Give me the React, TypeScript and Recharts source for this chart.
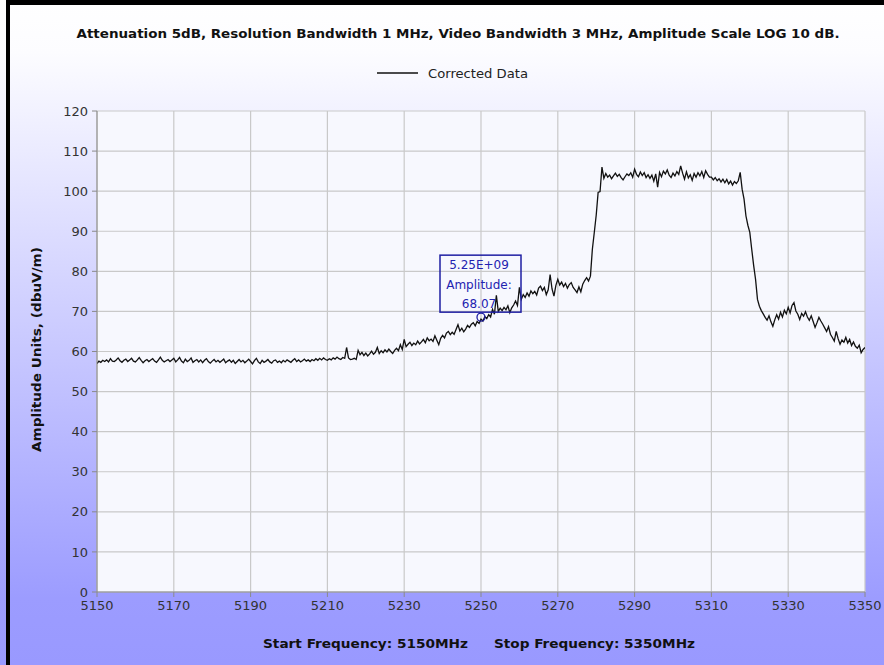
import React from 'react';
import { LineChart, Line, XAxis, YAxis, CartesianGrid, ReferenceDot } from 'recharts';

const START_FREQ = 5150;
const STEP_MHZ = 0.5;
const SERIES_NAME = 'Corrected Data';
const CHART_TITLE = 'Attenuation 5dB, Resolution Bandwidth 1 MHz, Video Bandwidth 3 MHz, Amplitude Scale LOG 10 dB.';
const Y_TITLE = 'Amplitude Units, (dbuV/m)';
const X_TITLE_START = 'Start Frequency: 5150MHz';
const X_TITLE_STOP = 'Stop Frequency: 5350MHz';

// amplitude readings, one row per 10 MHz (0.5 MHz steps)
const row5150 = [57.0, 57.6, 57.3, 57.8, 57.5, 57.9, 57.4, 58.2, 57.6, 57.5, 57.9, 58.4, 57.7, 57.3, 57.8, 58.1, 57.5, 57.9, 58.3, 57.6];
const row5160 = [57.4, 57.9, 58.5, 57.8, 57.2, 57.7, 58.0, 57.5, 57.9, 58.2, 57.6, 57.3, 57.9, 58.6, 57.8, 57.4, 57.7, 58.0, 57.5, 57.9];
const row5170 = [58.3, 57.4, 57.9, 58.5, 57.6, 57.2, 58.1, 57.5, 57.8, 58.4, 57.3, 57.7, 58.0, 57.4, 57.9, 57.2, 57.8, 58.2, 57.5, 57.1];
const row5180 = [57.6, 58.0, 57.4, 57.8, 57.3, 57.7, 58.1, 57.2, 57.6, 57.9, 57.3, 57.8, 57.0, 57.5, 58.0, 57.4, 57.8, 57.2, 57.6, 58.1];
const row5190 = [57.5, 56.9, 57.7, 58.3, 57.4, 57.0, 57.8, 57.3, 57.6, 58.0, 57.4, 57.1, 57.7, 57.9, 57.3, 57.6, 57.2, 57.8, 57.4, 57.9];
const row5200 = [57.6, 57.3, 57.8, 58.2, 57.5, 57.9, 57.4, 57.7, 58.1, 57.6, 57.9, 57.5, 58.0, 57.7, 58.2, 57.8, 58.3, 57.9, 58.4, 58.0];
const row5210 = [57.8, 58.2, 57.9, 58.4, 58.1, 58.6, 58.2, 58.0, 58.5, 58.3, 61.0, 58.4, 58.0, 58.1, 58.3, 58.0, 60.3, 59.2, 59.8, 59.0];
const row5220 = [59.6, 58.9, 59.4, 60.1, 59.3, 59.8, 61.0, 59.5, 60.2, 59.7, 60.4, 59.9, 60.6, 60.0, 59.5, 60.3, 60.8, 60.2, 61.7, 60.5];
const row5230 = [63.0, 61.2, 61.8, 62.3, 61.5, 62.1, 61.7, 62.6, 61.9, 62.4, 63.0, 62.2, 63.4, 62.7, 63.1, 62.5, 63.9, 62.8, 61.7, 63.3];
const row5240 = [64.0, 63.4, 64.6, 65.0, 64.2, 64.8, 64.3, 65.5, 66.7, 65.1, 65.8, 64.9, 65.6, 66.5, 66.0, 66.8, 67.2, 66.4, 67.5, 67.0];
const row5250 = [68.07, 67.6, 68.7, 68.2, 69.2, 68.6, 70.5, 69.3, 74.0, 70.0, 70.8, 70.2, 71.0, 70.4, 71.4, 69.7, 70.9, 71.6, 72.6, 71.5];
const row5260 = [76.0, 73.0, 74.2, 73.5, 74.6, 73.8, 75.1, 74.4, 75.0, 74.1, 75.8, 76.3, 75.2, 76.0, 74.2, 75.4, 79.2, 75.6, 73.8, 76.5];
const row5270 = [78.0, 76.6, 77.3, 76.2, 77.0, 75.8, 76.7, 77.2, 76.0, 75.4, 74.7, 76.1, 74.9, 76.8, 77.7, 78.4, 77.6, 78.8, 85.5, 89.7];
const row5280 = [94.0, 99.7, 99.9, 106.0, 103.2, 104.4, 103.5, 104.0, 103.1, 103.8, 104.5, 103.7, 104.2, 103.4, 102.8, 103.6, 104.3, 103.9, 104.6, 103.5];
const row5290 = [105.5, 104.2, 103.6, 104.8, 103.9, 104.6, 103.4, 104.1, 103.2, 104.0, 102.5, 104.3, 101.0, 104.7, 103.6, 105.0, 104.3, 105.3, 104.0, 103.4];
const row5300 = [104.5, 103.8, 104.9, 104.2, 106.3, 104.5, 103.0, 104.8, 103.3, 104.1, 102.7, 104.4, 103.5, 104.6, 103.8, 104.9, 103.4, 105.1, 104.2, 103.5];
const row5310 = [103.5, 102.8, 103.4, 102.6, 103.1, 102.3, 103.0, 102.1, 102.9, 101.8, 102.5, 101.5, 102.4, 101.9, 102.6, 104.7, 100.5, 98.0, 93.8, 91.5];
const row5320 = [89.7, 85.5, 81.5, 78.0, 73.0, 71.3, 70.2, 69.4, 68.5, 67.8, 68.9, 67.4, 66.3, 67.9, 69.2, 68.1, 69.8, 68.6, 70.3, 69.4];
const row5330 = [71.0, 69.6, 71.5, 72.2, 70.1, 69.3, 68.0, 69.5, 68.8, 69.9, 68.6, 67.8, 68.9, 67.5, 66.0, 67.2, 68.5, 67.6, 66.8, 65.9];
const row5340 = [65.0, 66.2, 64.3, 63.5, 62.6, 65.0, 63.2, 61.8, 62.9, 62.3, 63.5, 62.1, 63.0, 61.5, 62.4, 61.3, 60.8, 61.6, 59.7, 60.5];
const row5350 = [61.0];

const amplitudes = [
  ...row5150, ...row5160, ...row5170, ...row5180, ...row5190,
  ...row5200, ...row5210, ...row5220, ...row5230, ...row5240,
  ...row5250, ...row5260, ...row5270, ...row5280, ...row5290,
  ...row5300, ...row5310, ...row5320, ...row5330, ...row5340, ...row5350,
];

const data = amplitudes.map((amp, i) => ({ freq: START_FREQ + i * STEP_MHZ, amp }));

const xTicks = [5150, 5170, 5190, 5210, 5230, 5250, 5270, 5290, 5310, 5330, 5350];
const yTicks = [0, 10, 20, 30, 40, 50, 60, 70, 80, 90, 100, 110, 120];

const markerFreq = 5250;
const markerAmp = 68.07;
const markerLines = ['5.25E+09', 'Amplitude:', '68.07'];

const W = 884;
const H = 665;

const MarkerShape = (props: any) => {
  const { cx, cy } = props;
  if (cx == null || cy == null) return null;
  const c = '#1f1fa3';
  return (
    <g>
      <circle cx={cx} cy={cy - 2} r={4} fill="none" stroke={c} strokeWidth={1.3} />
      <rect x={cx - 41} y={cy - 64} width={81} height={57} fill="none" stroke={c} strokeWidth={1.5} />
      {markerLines.map((t, i) => (
        <text
          key={i}
          x={cx - 2}
          y={cy - 54 + i * 19.5}
          textAnchor="middle"
          dominantBaseline="central"
          fill="#2323b0"
          fontSize={12}
          fontFamily="DejaVu Sans, Verdana, sans-serif"
        >
          {t}
        </text>
      ))}
    </g>
  );
};

const tickStyle = { fill: '#333333', fontSize: 13, fontFamily: 'DejaVu Sans, Verdana, sans-serif' };

export default function App() {
  return (
    <div style={{ position: 'absolute', left: 0, top: 0, width: W, height: H, overflow: 'hidden' }}>
      <svg width={W} height={H} style={{ position: 'absolute', left: 0, top: 0 }}>
        <defs>
          <linearGradient id="bgGrad" x1="0" y1="0" x2="0" y2="1">
            <stop offset="0" stopColor="#ffffff" />
            <stop offset="0.08" stopColor="#fcfcff" />
            <stop offset="0.9" stopColor="#9c9cff" />
            <stop offset="1" stopColor="#9999ff" />
          </linearGradient>
        </defs>
        <rect x={0} y={0} width={W} height={H} fill="url(#bgGrad)" />
      </svg>
      <div style={{ position: 'absolute', left: 0, top: 0 }}>
        <LineChart width={W} height={H} data={data} margin={{ top: 111, right: 19, bottom: 43, left: 0 }}>
          <CartesianGrid stroke="#c9c9c9" strokeWidth={1.2} fill="#f7f8fe" ticks={undefined} />
          <XAxis
            dataKey="freq"
            type="number"
            domain={[5150, 5350]}
            ticks={xTicks}
            interval={0}
            allowDataOverflow
            height={30}
            stroke="#8a8a8a"
            tickSize={5}
            tickMargin={4}
            tick={tickStyle}
          />
          <YAxis
            type="number"
            domain={[0, 120]}
            ticks={yTicks}
            interval={0}
            allowDataOverflow
            width={97}
            stroke="#8a8a8a"
            tickSize={5}
            tickMargin={4}
            tick={tickStyle}
          />
          <Line
            type="linear"
            dataKey="amp"
            name={SERIES_NAME}
            stroke="#111111"
            strokeWidth={1.3}
            dot={false}
            isAnimationActive={false}
          />
          <ReferenceDot x={markerFreq} y={markerAmp} r={4} shape={MarkerShape} ifOverflow="visible" />
        </LineChart>
      </div>
      <svg width={W} height={H} style={{ position: 'absolute', left: 0, top: 0, pointerEvents: 'none' }}>
        <rect x={6} y={0} width={W - 6} height={5} fill="#000" />
        <rect x={6} y={0} width={4} height={H} fill="#000" />
        <text
          x={458}
          y={38}
          textAnchor="middle"
          fontFamily="DejaVu Sans Condensed, DejaVu Sans, sans-serif"
          fontWeight="bold"
          fontSize={13}
          fill="#111"
          textLength={763}
          lengthAdjust="spacingAndGlyphs"
        >
          {CHART_TITLE}
        </text>
        <line x1={377} y1={73} x2={418} y2={73} stroke="#111" strokeWidth={1.3} />
        <text x={428} y={77.5} fontFamily="DejaVu Sans, sans-serif" fontSize={12} fill="#222" textLength={100} lengthAdjust="spacingAndGlyphs">
          {SERIES_NAME}
        </text>
        <text
          x={0}
          y={0}
          transform="translate(41,349.5) rotate(-90)"
          textAnchor="middle"
          fontFamily="DejaVu Sans Condensed, DejaVu Sans, sans-serif"
          fontWeight="bold"
          fontSize={13}
          fill="#111"
          textLength={205}
          lengthAdjust="spacingAndGlyphs"
        >
          {Y_TITLE}
        </text>
        <text x={263} y={648} fontFamily="DejaVu Sans Condensed, DejaVu Sans, sans-serif" fontWeight="bold" fontSize={13} fill="#111" textLength={205} lengthAdjust="spacingAndGlyphs">
          {X_TITLE_START}
        </text>
        <text x={494} y={648} fontFamily="DejaVu Sans Condensed, DejaVu Sans, sans-serif" fontWeight="bold" fontSize={13} fill="#111" textLength={201} lengthAdjust="spacingAndGlyphs">
          {X_TITLE_STOP}
        </text>
      </svg>
    </div>
  );
}
